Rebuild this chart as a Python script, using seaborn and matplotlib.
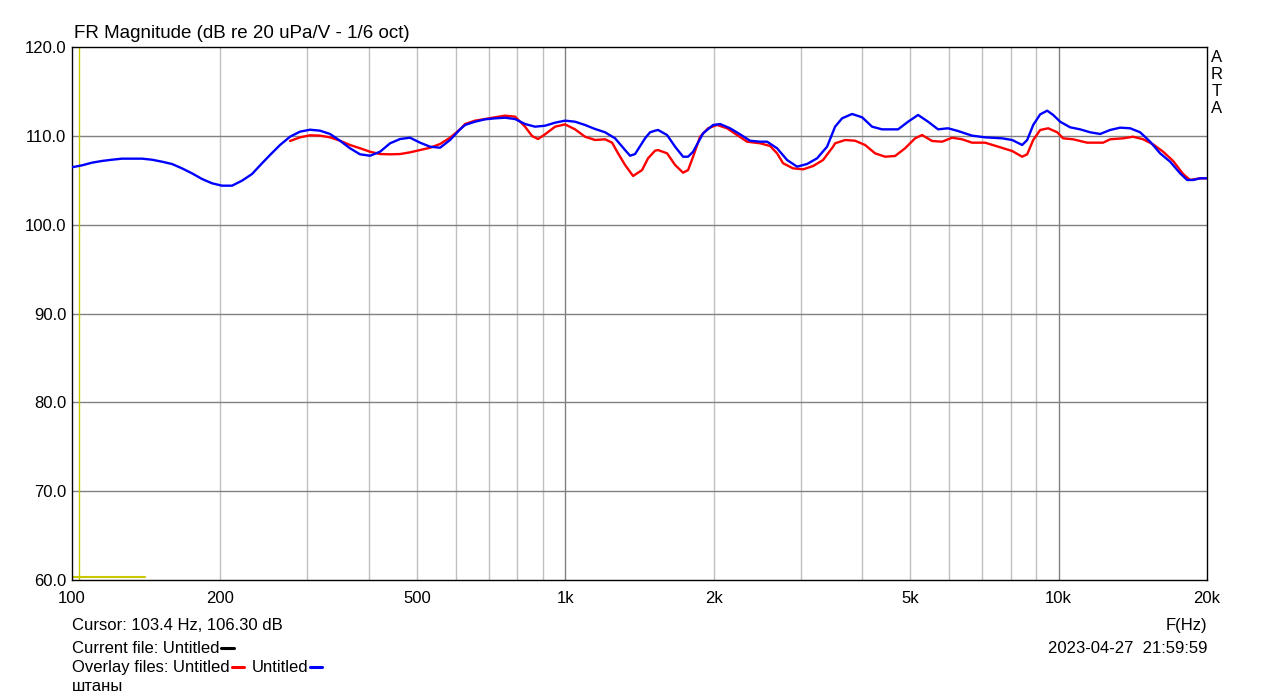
import matplotlib
matplotlib.use("Agg")
import matplotlib.pyplot as plt
import matplotlib.ticker as mticker
from matplotlib.lines import Line2D
import pandas as pd
import seaborn as sns

# ---------------- data ----------------
blue_freq = [100, 104.8, 109.8, 115.0, 120.5, 126.3, 132.3, 138.7, 145.3, 152.2, 159.5, 167.1,
             175.1, 183.5, 192.2, 201.4, 211.1, 221.1, 231.7, 242.8, 252.0, 264.1, 276.7, 289.9,
             303.8, 318.3, 333.5, 349.4, 366.1, 383.7, 402.0, 421.2, 441.4, 462.4, 484.5, 507.7,
             532.0, 557.4, 584.0, 611.9, 626.4, 641.2, 656.3, 687.7, 720.6, 755.0, 791.1, 828.9,
             868.5, 910.0, 953.5, 999.1, 1046.8, 1096.9, 1149.3, 1204.2, 1261.8, 1322.1, 1353.3,
             1385.2, 1451.4, 1485.7, 1520.8, 1542.3, 1608.5, 1669.7, 1733.2, 1774.2, 1816.1,
             1902.9, 1993.8, 2060.0, 2158.5, 2261.7, 2369.7, 2483.0, 2565.5, 2688.1, 2816.5,
             2951.1, 3092.1, 3239.9, 3394.6, 3523.9, 3640.9, 3814.9, 3997.2, 4188.3, 4388.5,
             4728.7, 4954.7, 5191.5, 5439.7, 5699.6, 5972.0, 6257.5, 6680.1, 7098.1, 7687.7,
             8055.1, 8440.1, 8639.5, 8885.0, 9180.3, 9485.3, 9754.9, 10075.6, 10557.1, 11061.6,
             11590.4, 12144.4, 12725.1, 13332.8, 13970.0, 14637.7, 15336.9, 16069.9, 16838.0,
             17642.9, 18229, 18747, 19370, 20000]
blue_db = [106.46, 106.68, 106.98, 107.17, 107.31, 107.43, 107.43, 107.43, 107.31, 107.09, 106.83,
           106.34, 105.78, 105.14, 104.66, 104.39, 104.39, 104.95, 105.70, 106.91, 107.84, 108.97,
           109.90, 110.47, 110.69, 110.58, 110.21, 109.45, 108.60, 107.92, 107.76, 108.21, 109.16,
           109.64, 109.79, 109.23, 108.78, 108.66, 109.53, 110.73, 111.22, 111.41, 111.59, 111.86,
           111.97, 112.04, 111.89, 111.33, 111.03, 111.14, 111.48, 111.71, 111.59, 111.22, 110.77,
           110.40, 109.72, 108.40, 107.76, 107.95, 109.72, 110.40, 110.58, 110.66, 110.09, 108.78,
           107.65, 107.65, 108.21, 110.28, 111.22, 111.33, 110.85, 110.17, 109.45, 109.34, 109.34,
           108.60, 107.28, 106.53, 106.83, 107.47, 108.78, 111.03, 111.97, 112.46, 112.09, 111.03,
           110.73, 110.73, 111.59, 112.35, 111.59, 110.73, 110.85, 110.54, 110.02, 109.83, 109.72,
           109.53, 108.97, 109.53, 111.22, 112.42, 112.83, 112.35, 111.59, 110.96, 110.73, 110.40,
           110.21, 110.66, 110.92, 110.85, 110.40, 109.34, 108.03, 107.09, 105.78, 105.03, 105.03,
           105.22, 105.22]

red_freq = [276.7, 289.9, 303.8, 318.3, 333.5, 349.4, 366.1, 383.7, 402.0, 421.2, 441.4, 462.4,
            484.5, 507.7, 532.0, 557.4, 584.0, 611.9, 626.4, 656.3, 687.7, 720.6, 755.0, 791.1,
            828.9, 856.5, 880.7, 910.0, 953.5, 999.1, 1046.8, 1096.9, 1149.3, 1204.2, 1244.3,
            1279.6, 1322.1, 1372.4, 1431.3, 1471.9, 1520.8, 1542.3, 1608.5, 1669.7, 1733.2,
            1774.2, 1816.1, 1876.4, 1947.8, 2031.4, 2128.5, 2230.2, 2336.8, 2483.0, 2601.6,
            2688.1, 2764.4, 2896.5, 3034.9, 3179.9, 3331.8, 3491.0, 3523.9, 3607.1, 3692.2,
            3868.7, 4053.6, 4247.3, 4450.3, 4662.9, 4885.8, 5119.3, 5289.4, 5542.2, 5807.0,
            6084.6, 6375.4, 6680.1, 7098.1, 7545.5, 8055.1, 8440.1, 8639.5, 8885.0, 9180.3,
            9529.7, 9938.7, 10217.7, 10706.0, 11429.2, 12315.6, 12725.1, 13521.0, 14166.8,
            14844.0, 15553.3, 16296.5, 17075.5, 17891.5, 18486, 19370, 20000]
red_db = [109.42, 109.83, 110.06, 110.02, 109.83, 109.45, 108.97, 108.60, 108.21, 107.95, 107.92,
          107.95, 108.14, 108.40, 108.66, 109.08, 109.79, 110.73, 111.33, 111.71, 111.89, 112.09,
          112.27, 112.16, 111.03, 109.98, 109.64, 110.17, 111.03, 111.29, 110.73, 109.90, 109.53,
          109.61, 109.23, 108.03, 106.72, 105.48, 106.15, 107.47, 108.33, 108.40, 108.03, 106.72,
          105.85, 106.15, 107.65, 109.90, 110.85, 111.22, 110.85, 110.09, 109.34, 109.16, 108.86,
          108.03, 106.91, 106.34, 106.23, 106.60, 107.28, 108.78, 109.16, 109.34, 109.53, 109.45,
          108.97, 108.03, 107.65, 107.73, 108.60, 109.72, 110.09, 109.42, 109.34, 109.79, 109.61,
          109.23, 109.23, 108.78, 108.29, 107.65, 107.92, 109.53, 110.66, 110.85, 110.40, 109.72,
          109.61, 109.23, 109.23, 109.61, 109.72, 109.90, 109.61, 109.04, 108.21, 107.17, 105.70,
          105.03, 105.22, 105.22]

x_ticks = [100, 200, 500, 1000, 2000, 5000, 10000, 20000]
x_tick_labels = ["100", "200", "500", "1k", "2k", "5k", "10k", "20k"]
y_ticks = [60, 70, 80, 90, 100, 110, 120]

cursor_freq = 103.4
cursor_db = 106.30

df = pd.concat([
    pd.DataFrame({"freq": red_freq, "db": red_db, "series": "red"}),
    pd.DataFrame({"freq": blue_freq, "db": blue_db, "series": "blue"}),
], ignore_index=True)

# ---------------- figure ----------------
sns.set_theme(style="white")
plt.rcParams["font.family"] = ["Liberation Sans", "DejaVu Sans"]
plt.rcParams["text.color"] = "black"

W, H = 1279, 699
fig = plt.figure(figsize=(W / 100, H / 100), dpi=100)
fig.patch.set_facecolor("white")
ax = fig.add_axes([72 / W, (H - 580) / H, (1207 - 72) / W, (580 - 47) / H])
ax.set_facecolor("white")

ax.set_xscale("log")
ax.set_xlim(100, 20000)
ax.set_ylim(60, 120)

# grid
minor_col = "#c0c0c0"
major_col = "#808080"
for dec in [100, 1000, 10000]:
    for m in range(2, 10):
        f = dec * m
        if f < 20000:
            ax.axvline(f, color=minor_col, lw=1, zorder=0)
for f in [1000, 10000]:
    ax.axvline(f, color=major_col, lw=1, zorder=0)
for y in y_ticks[1:-1]:
    ax.axhline(y, color=major_col, lw=1, zorder=0)

# cursor
ax.axvline(cursor_freq, color="#c8c800", lw=1, zorder=1)
ax.plot([100, 140.6], [60.3, 60.3], color="#c8c800", lw=1.5, zorder=1)

sns.lineplot(data=df, x="freq", y="db", hue="series", palette={"red": "#ff0000", "blue": "#0000ff"},
             hue_order=["red", "blue"], estimator=None, sort=False, lw=1.7, legend=False, ax=ax, zorder=3)

ax.set_xticks(x_ticks)
ax.set_xticklabels(x_tick_labels)
ax.xaxis.set_minor_locator(mticker.NullLocator())
ax.set_yticks(y_ticks)
ax.set_yticklabels([f"{v:.1f}" for v in y_ticks])
ax.tick_params(axis="both", length=0, labelsize=12, colors="black")
ax.tick_params(axis="x", pad=8)
ax.tick_params(axis="y", pad=4)
ax.set_xlabel("")
ax.set_ylabel("")
for s in ax.spines.values():
    s.set_color("black")
    s.set_linewidth(1)

# texts
def fx(px):
    return px / W

def fy(py):
    return 1 - py / H

fig.text(fx(74), fy(33), "FR Magnitude (dB re 20 uPa/V - 1/6 oct)", fontsize=13.5, va="center", ha="left", color="black")
for i, ch in enumerate("ARTA"):
    fig.text(fx(1217), fy(57 + i * 17.3), ch, fontsize=12, va="center", ha="center", color="black")

fs = 12
fig.text(fx(72), fy(630), f"Cursor: {cursor_freq} Hz, {cursor_db:.2f} dB", fontsize=fs, va="baseline", ha="left", color="black")
fig.text(fx(1207), fy(630), "F(Hz)", fontsize=fs, va="baseline", ha="right", color="black")
fig.text(fx(1207), fy(653), "2023-04-27  21:59:59", fontsize=fs, va="baseline", ha="right", color="black")

renderer = fig.canvas.get_renderer()

def text_then_dash(x_px, base_px, s, color):
    t = fig.text(fx(x_px), fy(base_px), s, fontsize=fs, va="baseline", ha="left", color="black")
    bb = t.get_window_extent(renderer=renderer)
    x0 = bb.x1 + 2
    fig.add_artist(Line2D([x0 / W, (x0 + 12) / W], [fy(base_px - 5), fy(base_px - 5)], color=color, lw=2.2,
                          transform=fig.transFigure))
    return x0 + 12

text_then_dash(72, 653, "Current file: Untitled", "black")
xe = text_then_dash(72, 672, "Overlay files: Untitled", "#ff0000")
text_then_dash(xe + 8, 672, "Untitled", "#0000ff")
fig.text(fx(72), fy(691), "штаны", fontsize=fs, va="baseline", ha="left", color="black")

fig.savefig("out.png", dpi=100, facecolor="white")
